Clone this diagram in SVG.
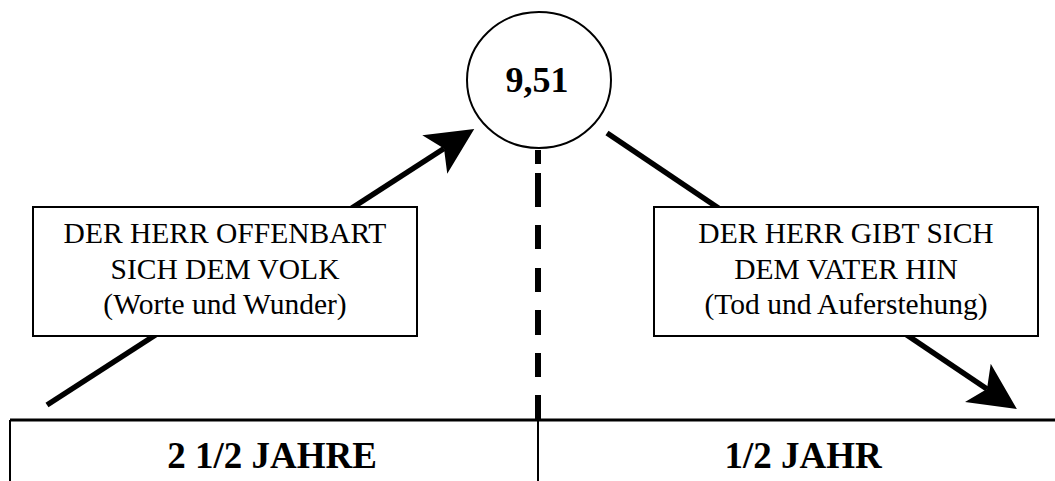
<svg xmlns="http://www.w3.org/2000/svg" width="1055" height="481" viewBox="0 0 1055 481">
  <style>
    .box { fill: #ffffff; stroke: #000000; stroke-width: 2; }
    .lbl { font-family: "Liberation Serif", "Times New Roman", serif; font-size: 29.5px; fill: #000000; text-anchor: middle; }
    .big { font-family: "Liberation Serif", "Times New Roman", serif; font-weight: bold; fill: #000000; text-anchor: middle; }
    .shaft { stroke: #000000; stroke-width: 5.5; fill: none; }
    .dash { stroke: #000000; stroke-width: 6; fill: none; }
  </style>
  <defs>
    <marker id="head" markerUnits="userSpaceOnUse" markerWidth="60" markerHeight="60" refX="0" refY="0" orient="auto" overflow="visible" viewBox="-20 -30 60 60">
      <path d="M36,0 L-11,-23 L0,0 L-11,23 Z" fill="#000000"/>
    </marker>
  </defs>
  <rect x="0" y="0" width="1055" height="481" fill="#ffffff"/>

  <g id="connectors">
    <line class="shaft" x1="47" y1="405" x2="444" y2="148.5" marker-end="url(#head)"/>
    <line class="shaft" x1="607" y1="133" x2="987" y2="389" marker-end="url(#head)"/>
    <path class="dash" d="M538 150V164 M538 173V207 M538 225V249 M538 268V292 M538 310V335 M538 353V377 M538 395V420"/>
  </g>

  <g id="node-951">
    <ellipse cx="539" cy="80" rx="72" ry="68" fill="#ffffff" stroke="#000000" stroke-width="2"/>
    <text class="big" x="537" y="92" font-size="36">9,51</text>
  </g>

  <g id="node-offenbart">
    <rect class="box" x="33" y="207" width="384" height="129"/>
    <text class="lbl" x="225" y="243">DER HERR OFFENBART</text>
    <text class="lbl" x="225" y="279">SICH DEM VOLK</text>
    <text class="lbl" x="225" y="314">(Worte und Wunder)</text>
  </g>

  <g id="node-hingabe">
    <rect class="box" x="654" y="207" width="384" height="129"/>
    <text class="lbl" x="846" y="243">DER HERR GIBT SICH</text>
    <text class="lbl" x="846" y="279">DEM VATER HIN</text>
    <text class="lbl" x="846" y="314">(Tod und Auferstehung)</text>
  </g>

  <g id="timeline">
    <line x1="10" y1="420" x2="1055" y2="420" stroke="#000000" stroke-width="3"/>
    <line x1="10" y1="420" x2="10" y2="481" stroke="#000000" stroke-width="2"/>
    <line x1="538" y1="420" x2="538" y2="481" stroke="#000000" stroke-width="2"/>
    <text class="big" x="272" y="468" font-size="37">2 1/2 JAHRE</text>
    <text class="big" x="803" y="468" font-size="37">1/2 JAHR</text>
  </g>
</svg>
